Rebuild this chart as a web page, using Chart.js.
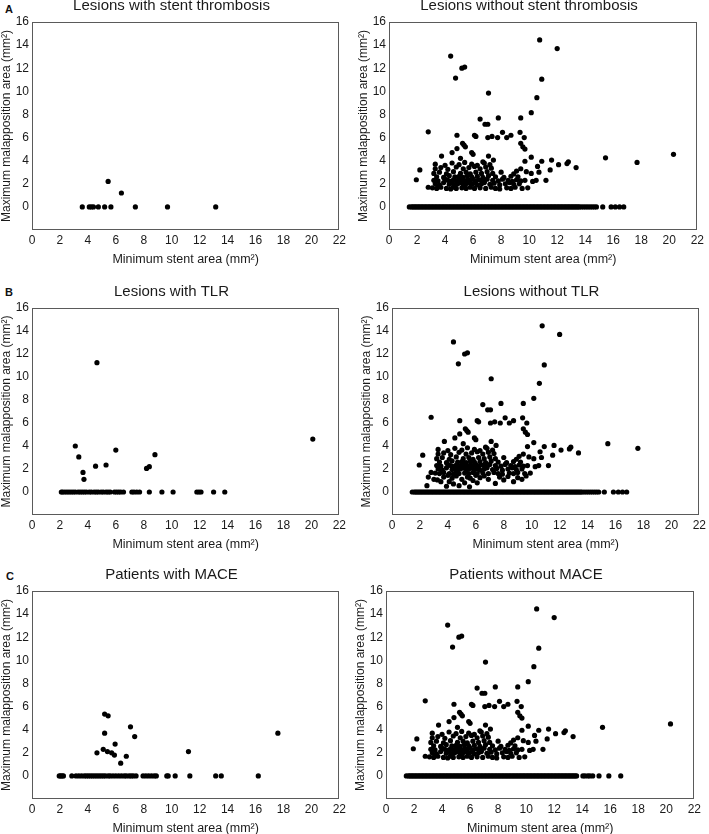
<!DOCTYPE html>
<html>
<head>
<meta charset="utf-8">
<script src="https://cdn.jsdelivr.net/npm/chart.js@4.4.1/dist/chart.umd.min.js"></script>
<style>
  html, body { margin: 0; padding: 0; background: #fff; overflow: hidden; }
  body { width: 709px; height: 834px; position: relative; font-family: "Liberation Sans", Arial, sans-serif; }
  .panel { position: absolute; }
  .tag { position: absolute; font-weight: bold; font-size: 11px; color: #111; }
</style>
</head>
<body>
<div class="tag" style="left:5px;top:3px;">A</div>
<div class="tag" style="left:5px;top:286px;">B</div>
<div class="tag" style="left:6px;top:570px;">C</div>

<div class="panel" id="pA1"><canvas id="cA1"></canvas></div>
<div class="panel" id="pA2"><canvas id="cA2"></canvas></div>
<div class="panel" id="pB1"><canvas id="cB1"></canvas></div>
<div class="panel" id="pB2"><canvas id="cB2"></canvas></div>
<div class="panel" id="pC1"><canvas id="cC1"></canvas></div>
<div class="panel" id="pC2"><canvas id="cC2"></canvas></div>

<script>
// tick labels
const xTicks = [0, 2, 4, 6, 8, 10, 12, 14, 16, 18, 20, 22];
const yTicks = [0, 2, 4, 6, 8, 10, 12, 14, 16];

// ---- left panels (with event) ----
const stZeroX = [3.6, 4.1, 4.25, 4.4, 4.75, 5.2, 5.65, 7.4, 9.7, 13.15];
const stPts = [[5.45, 2.2], [6.4, 1.2]];

const tlrZeroX = [2.1, 2.2, 2.35, 2.5, 2.65, 2.8, 2.95, 3.1, 3.3, 3.45, 3.6, 3.75, 3.9, 4.1, 4.25,
  4.45, 4.6, 4.75, 4.95, 5.1, 5.3, 5.45, 5.6, 5.9, 6.05, 6.2, 6.35, 6.55, 7.15, 7.3, 7.5, 7.7,
  8.4, 9.3, 10.1, 11.8, 11.95, 12.1, 13.0, 13.8];
const tlrPts = [[3.1, 4.0], [3.35, 3.05], [3.65, 1.7], [3.72, 1.1], [4.55, 2.25], [4.65, 11.25],
  [5.3, 2.35], [6.0, 3.65], [8.2, 2.05], [8.4, 2.2], [8.8, 3.25], [20.1, 4.6]];

const maceZeroX = [1.95, 2.05, 2.15, 2.25, 2.85, 3.15, 3.35, 3.55, 3.75, 3.9, 4.05, 4.2, 4.35, 4.5,
  4.65, 4.8, 4.95, 5.1, 5.25, 5.45, 5.6, 5.8, 6.0, 6.2, 6.4, 6.6, 6.75, 6.95, 7.1, 7.25, 7.45,
  7.95, 8.15, 8.35, 8.55, 8.75, 8.9, 9.65, 9.75, 10.25, 11.3, 13.15, 13.55, 16.2];
const macePts = [[4.65, 2.0], [5.1, 2.3], [5.4, 2.1], [5.7, 2.0], [5.9, 1.8], [5.95, 2.75],
  [6.35, 1.1], [6.75, 1.7], [5.2, 3.7], [5.2, 5.35], [5.45, 5.2], [7.05, 4.25], [7.35, 3.4],
  [11.2, 2.1], [17.6, 3.7]];

// ---- right panels (without event) ----
const zeroRowX = [1.45, 1.6, 1.7, 1.8, 1.9, 2.0, 2.1, 2.2, 2.3, 2.4, 2.5, 2.6, 2.7, 2.8, 2.9, 3.0,
  3.1, 3.2, 3.3, 3.4, 3.5, 3.6, 3.7, 3.8, 3.9, 4.0, 4.1, 4.2, 4.3, 4.4, 4.5, 4.6, 4.7, 4.8, 4.9,
  5.0, 5.1, 5.2, 5.3, 5.4, 5.5, 5.6, 5.7, 5.8, 5.9, 6.0, 6.1, 6.2, 6.3, 6.4, 6.5, 6.6, 6.7, 6.8,
  6.9, 7.0, 7.1, 7.2, 7.3, 7.4, 7.5, 7.6, 7.7, 7.8, 7.9, 8.0, 8.1, 8.2, 8.3, 8.4, 8.5, 8.6, 8.7,
  8.8, 8.9, 9.0, 9.1, 9.2, 9.3, 9.4, 9.5, 9.6, 9.7, 9.8, 9.9, 10.0, 10.1, 10.2, 10.3, 10.4, 10.5,
  10.6, 10.7, 10.8, 10.9, 11.0, 11.1, 11.2, 11.3, 11.4, 11.5, 11.6, 11.7, 11.8, 11.9, 12.0, 12.1,
  12.2, 12.3, 12.4, 12.5, 12.6, 12.7, 12.8, 12.9, 13.0, 13.1, 13.2, 13.3, 13.4, 13.5, 13.6];
const zeroTailA = [13.75, 13.9, 14.05, 14.2, 14.35, 14.5, 14.65, 14.8, 15.25, 15.85, 16.15, 16.45, 16.75];
const zeroTailB = [13.75, 13.9, 14.05, 14.2, 14.35, 14.5, 14.65, 14.8, 15.2, 15.85, 16.2, 16.5, 16.8];
const zeroTailC = [14.05, 14.2, 14.4, 14.55, 14.75, 15.2, 15.9, 16.75];

const cloudPts = [
  [10.75, 14.45], [12.0, 13.7], [4.4, 13.05], [5.2, 12.0], [5.4, 12.1], [4.75, 11.15], [10.9, 11.05],
  [7.1, 9.85], [10.55, 9.45], [10.15, 8.15], [6.5, 7.6], [7.8, 7.7], [9.4, 7.7], [6.85, 7.15], [7.05, 7.15],
  [2.8, 6.5], [4.85, 6.2], [6.1, 6.2], [6.2, 6.1], [7.05, 6.0], [7.35, 6.1], [7.75, 6.0], [8.1, 6.45],
  [8.4, 6.0], [8.7, 6.2], [9.35, 6.45], [9.65, 6.0], [5.25, 5.5], [5.35, 5.35], [5.45, 5.2], [4.85, 5.05],
  [9.4, 5.5], [9.55, 5.2], [9.7, 5.0], [4.5, 4.7], [5.9, 4.7], [6.0, 4.55], [3.75, 4.4], [7.1, 4.4],
  [10.15, 4.3], [5.1, 4.2], [6.7, 3.9], [7.45, 4.05], [9.7, 3.95], [10.9, 3.95], [11.6, 4.05], [12.1, 3.65],
  [12.7, 3.75], [12.8, 3.9], [13.35, 3.4], [11.5, 3.2], [10.6, 3.5], [10.7, 3.0], [11.2, 2.3], [10.15, 2.9],
  [10.25, 2.2], [10.5, 2.3], [9.1, 3.1], [1.95, 2.35], [2.2, 3.2], [2.8, 1.7],
  [3.1, 1.65], [3.4, 1.6], [3.7, 1.7], [4.1, 1.6], [4.4, 1.55], [4.6, 1.7], [4.8, 1.6], [5.2, 1.65],
  [5.5, 1.6], [5.8, 1.7], [6.1, 1.6], [6.5, 1.65], [6.9, 1.6], [7.3, 1.7], [7.6, 1.6], [7.9, 1.55],
  [8.4, 1.65], [8.7, 1.6], [9.0, 1.7], [9.5, 1.6], [9.9, 1.65],
  [3.3, 2.0], [3.6, 1.9], [3.9, 2.1], [4.3, 1.95], [4.5, 2.05], [4.7, 1.9], [4.9, 2.0], [5.1, 2.1],
  [5.3, 1.9], [5.5, 2.0], [5.7, 2.1], [5.9, 1.95], [6.1, 2.05], [6.3, 1.9], [6.6, 2.0], [6.8, 2.1],
  [7.2, 1.95], [7.5, 2.05], [7.9, 1.9], [8.3, 2.0], [8.6, 2.1], [8.9, 1.95], [9.3, 2.0],
  [3.2, 2.3], [3.5, 2.25], [4.0, 2.4], [4.2, 2.3], [4.4, 2.2], [4.6, 2.35], [4.8, 2.25], [5.0, 2.4],
  [5.2, 2.3], [5.4, 2.2], [5.6, 2.35], [5.8, 2.3], [6.0, 2.4], [6.2, 2.25], [6.4, 2.35], [6.6, 2.3],
  [6.8, 2.2], [7.0, 2.4], [7.4, 2.3], [7.8, 2.25], [8.1, 2.4], [8.5, 2.3], [8.8, 2.2], [9.1, 2.35],
  [9.4, 2.25], [9.7, 2.3],
  [3.4, 2.6], [3.9, 2.55], [4.3, 2.7], [4.7, 2.6], [5.0, 2.65], [5.3, 2.55], [5.6, 2.7], [5.9, 2.6],
  [6.3, 2.65], [6.7, 2.55], [7.1, 2.7], [7.6, 2.6], [8.2, 2.55], [8.7, 2.65], [9.2, 2.6],
  [3.2, 2.9], [3.6, 3.0], [4.1, 2.85], [4.6, 3.05], [5.1, 2.9], [5.5, 3.0], [5.8, 2.85], [6.2, 3.0],
  [6.6, 2.9], [7.0, 3.05], [7.4, 2.9], [8.0, 3.0], [8.9, 2.85], [9.8, 3.05],
  [3.3, 3.3], [3.7, 3.4], [4.2, 3.25], [4.8, 3.45], [5.3, 3.3], [5.7, 3.4], [6.1, 3.5], [6.5, 3.3],
  [6.9, 3.45], [7.3, 3.35], [9.4, 3.3],
  [3.3, 3.7], [4.0, 3.6], [4.5, 3.8], [5.0, 3.65], [5.4, 3.85], [5.9, 3.7], [6.3, 3.6], [6.8, 3.8], [7.2, 3.65]
];
const lowPtsTLR = [[2.5, 0.55], [2.6, 1.3], [3.0, 1.1], [3.25, 1.05], [3.5, 0.9], [3.7, 1.3], [3.9, 0.5],
  [4.1, 0.9], [4.3, 1.2], [4.4, 0.7], [4.6, 1.4], [4.8, 0.55], [5.0, 1.1], [5.2, 0.8], [5.4, 1.3],
  [5.55, 0.45], [5.8, 1.0], [6.1, 0.8], [6.3, 1.25], [6.6, 1.4], [6.9, 1.1], [7.4, 0.75], [7.7, 1.3],
  [8.0, 1.05], [8.3, 1.35], [8.7, 0.9], [9.0, 1.25], [9.3, 1.1], [9.6, 1.4], [4.0, 1.45], [5.6, 1.2], [6.0, 1.45]];
const farA = [[15.45, 4.25], [17.7, 3.85], [20.3, 4.55]];
const farB = [[15.45, 4.2], [17.6, 3.8]];
const farC = [[15.45, 4.2], [20.3, 4.5]];

const toPts = (zeroX, pairs) => zeroX.map(x => ({ x: x, y: 0 })).concat(pairs.map(p => ({ x: p[0], y: p[1] })));

// plot box per panel: left, top, right, bottom (px)
const panels = [
  { id: "A1", title: "Lesions with stent thrombosis", box: [32, 22, 343, 230], data: toPts(stZeroX, stPts) },
  { id: "A2", title: "Lesions without stent thrombosis", box: [389, 22, 701, 230], data: toPts(zeroRowX.concat(zeroTailA), cloudPts.concat(farA)) },
  { id: "B1", title: "Lesions with TLR", box: [32, 308, 343, 515], data: toPts(tlrZeroX, tlrPts) },
  { id: "B2", title: "Lesions without TLR", box: [392, 308, 703, 515], data: toPts(zeroRowX.concat(zeroTailB), cloudPts.concat(lowPtsTLR, farB)) },
  { id: "C1", title: "Patients with MACE", box: [32, 591, 343, 799], data: toPts(maceZeroX, macePts) },
  { id: "C2", title: "Patients without MACE", box: [386, 591, 698, 799], data: toPts(zeroRowX.concat(zeroTailC), cloudPts.concat(farC)) }
];

const YAXIS_W = 32, XAXIS_H = 40, TITLE_H = 25, PAD_R = 6;
const textColor = "#1a1a1a";
const fontFam = "'Liberation Sans', Arial, sans-serif";

const boxPlugin = {
  id: "plotBox",
  afterDraw: (chart) => {
    const a = chart.chartArea;
    const ctx = chart.ctx;
    ctx.save();
    ctx.strokeStyle = "#5a5a5a";
    ctx.lineWidth = 1;
    ctx.strokeRect(Math.round(a.left) + 0.5, Math.round(a.top) + 0.5, Math.round(a.right - a.left) - 1, Math.round(a.bottom - a.top) - 1);
    ctx.restore();
  }
};

const drawPanel = (p) => {
  const [l, t, r, b] = p.box;
  const wrap = document.getElementById("p" + p.id);
  const w = (r - l) + YAXIS_W + PAD_R;
  const h = (b - t) + TITLE_H + XAXIS_H;
  wrap.style.left = (l - YAXIS_W) + "px";
  wrap.style.top = (t - TITLE_H) + "px";
  wrap.style.width = w + "px";
  wrap.style.height = h + "px";
  const cv = document.getElementById("c" + p.id);
  cv.width = w;
  cv.height = h;

  new Chart(cv.getContext("2d"), {
    type: "scatter",
    data: {
      datasets: [{
        data: p.data,
        backgroundColor: "#000",
        borderWidth: 0,
        pointRadius: 2.6,
        pointHoverRadius: 2.6
      }]
    },
    options: {
      responsive: false,
      animation: false,
      devicePixelRatio: 1,
      layout: { autoPadding: false, padding: { left: 0, right: PAD_R, top: 0, bottom: 0 } },
      plugins: {
        legend: { display: false },
        tooltip: { enabled: false },
        title: {
          display: true,
          text: p.title,
          color: textColor,
          font: { family: fontFam, size: 15, weight: "normal", lineHeight: 1.2 },
          padding: { top: 0, bottom: 7 }
        }
      },
      scales: {
        x: {
          type: "linear",
          min: xTicks[0],
          max: xTicks[xTicks.length - 1],
          afterBuildTicks: (s) => { s.ticks = xTicks.map(v => ({ value: v })); },
          afterFit: (s) => { s.height = XAXIS_H; },
          grid: { display: false, drawTicks: false },
          border: { display: false },
          ticks: { color: textColor, padding: 3, autoSkip: false, maxRotation: 0, font: { family: fontFam, size: 12 } },
          title: {
            display: true,
            text: "Minimum stent area (mm²)",
            color: textColor,
            font: { family: fontFam, size: 12.5, lineHeight: 1.2 },
            padding: { top: 0, bottom: 3 }
          }
        },
        y: {
          type: "linear",
          min: -2,
          max: yTicks[yTicks.length - 1],
          afterBuildTicks: (s) => { s.ticks = [-2].concat(yTicks).map(v => ({ value: v })); },
          afterFit: (s) => { s.width = YAXIS_W; },
          grid: { display: false, drawTicks: false },
          border: { display: false },
          ticks: {
            color: textColor,
            padding: 3,
            autoSkip: false,
            font: { family: fontFam, size: 12 },
            callback: (v) => (v < 0 ? "" : v)
          },
          title: {
            display: true,
            text: "Maximum malapposition area (mm²)",
            color: textColor,
            font: { family: fontFam, size: 12, lineHeight: 1 },
            padding: { top: 1, bottom: 0 }
          }
        }
      }
    },
    plugins: [boxPlugin]
  });
};

panels.forEach(drawPanel);
</script>
</body>
</html>
